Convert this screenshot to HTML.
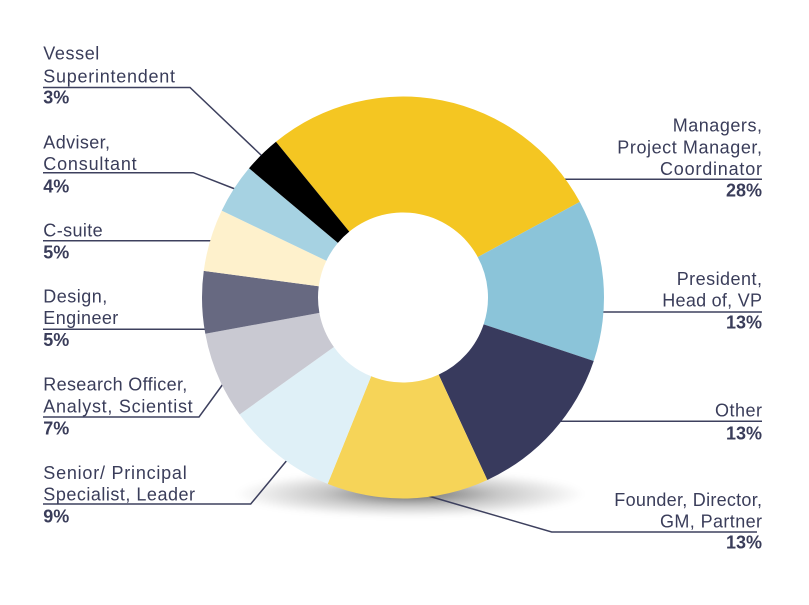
<!DOCTYPE html>
<html>
<head>
<meta charset="utf-8">
<style>
  html, body { margin:0; padding:0; background:#ffffff; }
  svg { display:block; }
  text { font-family: "Liberation Sans", sans-serif; font-size:18px; fill:#3a3d5a; }
  .b { font-weight:bold; }
</style>
</head>
<body>
<svg width="809" height="605" viewBox="0 0 809 605" xmlns="http://www.w3.org/2000/svg">
  <defs>
    <radialGradient id="sh" cx="0.5" cy="0.5" r="0.5">
      <stop offset="0" stop-color="#000" stop-opacity="0.6"/>
      <stop offset="0.5" stop-color="#000" stop-opacity="0.22"/>
      <stop offset="1" stop-color="#000" stop-opacity="0"/>
    </radialGradient>
    <filter id="bl" x="-20%" y="-50%" width="140%" height="200%">
      <feGaussianBlur stdDeviation="3"/>
    </filter>
  </defs>
  <rect width="809" height="605" fill="#fff"/>

  <!-- shadow -->
  <ellipse cx="410" cy="494" rx="175" ry="23" fill="url(#sh)" filter="url(#bl)"/>

  <!-- leader lines -->
  <g fill="none" stroke="#3d405e" stroke-width="1.5">
    <path d="M43 87.5 H190 L262 156"/>
    <path d="M43 172.7 H193.3 L235 189"/>
    <path d="M43 240.7 H212"/>
    <path d="M43 329.3 H206"/>
    <path d="M43 417 H199 L223 384"/>
    <path d="M43 504 H250.7 L288 459"/>
    <path d="M562 179.3 H762"/>
    <path d="M598 312 H762"/>
    <path d="M555 421.3 H762"/>
    <path d="M425 495 L551.7 532 H757"/>
  </g>

  <!-- donut -->
  <g>
    <path fill="#F4C622" d="M275.97 141.75 A201 201 0 0 1 579.80 201.90 L477.77 257.07 A85 85 0 0 0 349.28 231.63 Z"/>
    <path fill="#8BC4D9" d="M579.80 201.90 A201 201 0 0 1 593.73 360.94 L483.66 324.33 A85 85 0 0 0 477.77 257.07 Z"/>
    <path fill="#383A5D" d="M593.73 360.94 A201 201 0 0 1 487.32 479.97 L438.66 374.66 A85 85 0 0 0 483.66 324.33 Z"/>
    <path fill="#F6D458" d="M487.32 479.97 A201 201 0 0 1 327.71 483.87 L371.16 376.31 A85 85 0 0 0 438.66 374.66 Z"/>
    <path fill="#DFF0F7" d="M327.71 483.87 A201 201 0 0 1 239.57 414.50 L333.89 346.98 A85 85 0 0 0 371.16 376.31 Z"/>
    <path fill="#C9C9D2" d="M239.57 414.50 A201 201 0 0 1 205.30 333.78 L319.39 312.84 A85 85 0 0 0 333.89 346.98 Z"/>
    <path fill="#676981" d="M205.30 333.78 A201 201 0 0 1 203.77 270.91 L318.75 286.25 A85 85 0 0 0 319.39 312.84 Z"/>
    <path fill="#FEF1CC" d="M203.77 270.91 A201 201 0 0 1 221.74 210.65 L326.35 260.77 A85 85 0 0 0 318.75 286.25 Z"/>
    <path fill="#A6D2E2" d="M221.74 210.65 A201 201 0 0 1 249.03 168.30 L337.89 242.86 A85 85 0 0 0 326.35 260.77 Z"/>
    <path fill="#000000" d="M249.03 168.30 A201 201 0 0 1 275.97 141.75 L349.28 231.63 A85 85 0 0 0 337.89 242.86 Z"/>
  </g>

  <!-- left labels -->
  <text x="43.3" y="59.3" textLength="56" lengthAdjust="spacing">Vessel</text>
  <text x="43.3" y="82.3" textLength="131.7" lengthAdjust="spacing">Superintendent</text>
  <text x="43.3" y="103.3" class="b">3%</text>

  <text x="43.3" y="148.3" textLength="66.7" lengthAdjust="spacing">Adviser,</text>
  <text x="43.3" y="170" textLength="93.4" lengthAdjust="spacing">Consultant</text>
  <text x="43.3" y="192.3" class="b">4%</text>

  <text x="43.3" y="236.7" textLength="59.4" lengthAdjust="spacing">C-suite</text>
  <text x="43.3" y="258.3" class="b">5%</text>

  <text x="43.3" y="302.3" textLength="64" lengthAdjust="spacing">Design,</text>
  <text x="43.3" y="324" textLength="75" lengthAdjust="spacing">Engineer</text>
  <text x="43.3" y="346" class="b">5%</text>

  <text x="43.3" y="390.7" textLength="144" lengthAdjust="spacing">Research Officer,</text>
  <text x="43.3" y="412.3" textLength="149.4" lengthAdjust="spacing">Analyst, Scientist</text>
  <text x="43.3" y="434.3" class="b">7%</text>

  <text x="43.3" y="479" textLength="143.4" lengthAdjust="spacing">Senior/ Principal</text>
  <text x="43.3" y="500.7" textLength="151.7" lengthAdjust="spacing">Specialist, Leader</text>
  <text x="43.3" y="522.3" class="b">9%</text>

  <!-- right labels -->
  <text x="672.7" y="131.7" textLength="89.3" lengthAdjust="spacing">Managers,</text>
  <text x="617.3" y="153.3" textLength="144.7" lengthAdjust="spacing">Project Manager,</text>
  <text x="660" y="175" textLength="102" lengthAdjust="spacing">Coordinator</text>
  <text x="762" y="196.7" class="b" text-anchor="end">28%</text>

  <text x="676.7" y="285" textLength="85.3" lengthAdjust="spacing">President,</text>
  <text x="662.3" y="306.7" textLength="99.7" lengthAdjust="spacing">Head of, VP</text>
  <text x="762" y="328.3" class="b" text-anchor="end">13%</text>

  <text x="715" y="416.7" textLength="47" lengthAdjust="spacing">Other</text>
  <text x="762" y="439.3" class="b" text-anchor="end">13%</text>

  <text x="614.3" y="506" textLength="147.7" lengthAdjust="spacing">Founder, Director,</text>
  <text x="660" y="527.7" textLength="102" lengthAdjust="spacing">GM, Partner</text>
  <text x="762" y="548.3" class="b" text-anchor="end">13%</text>
</svg>
</body>
</html>
